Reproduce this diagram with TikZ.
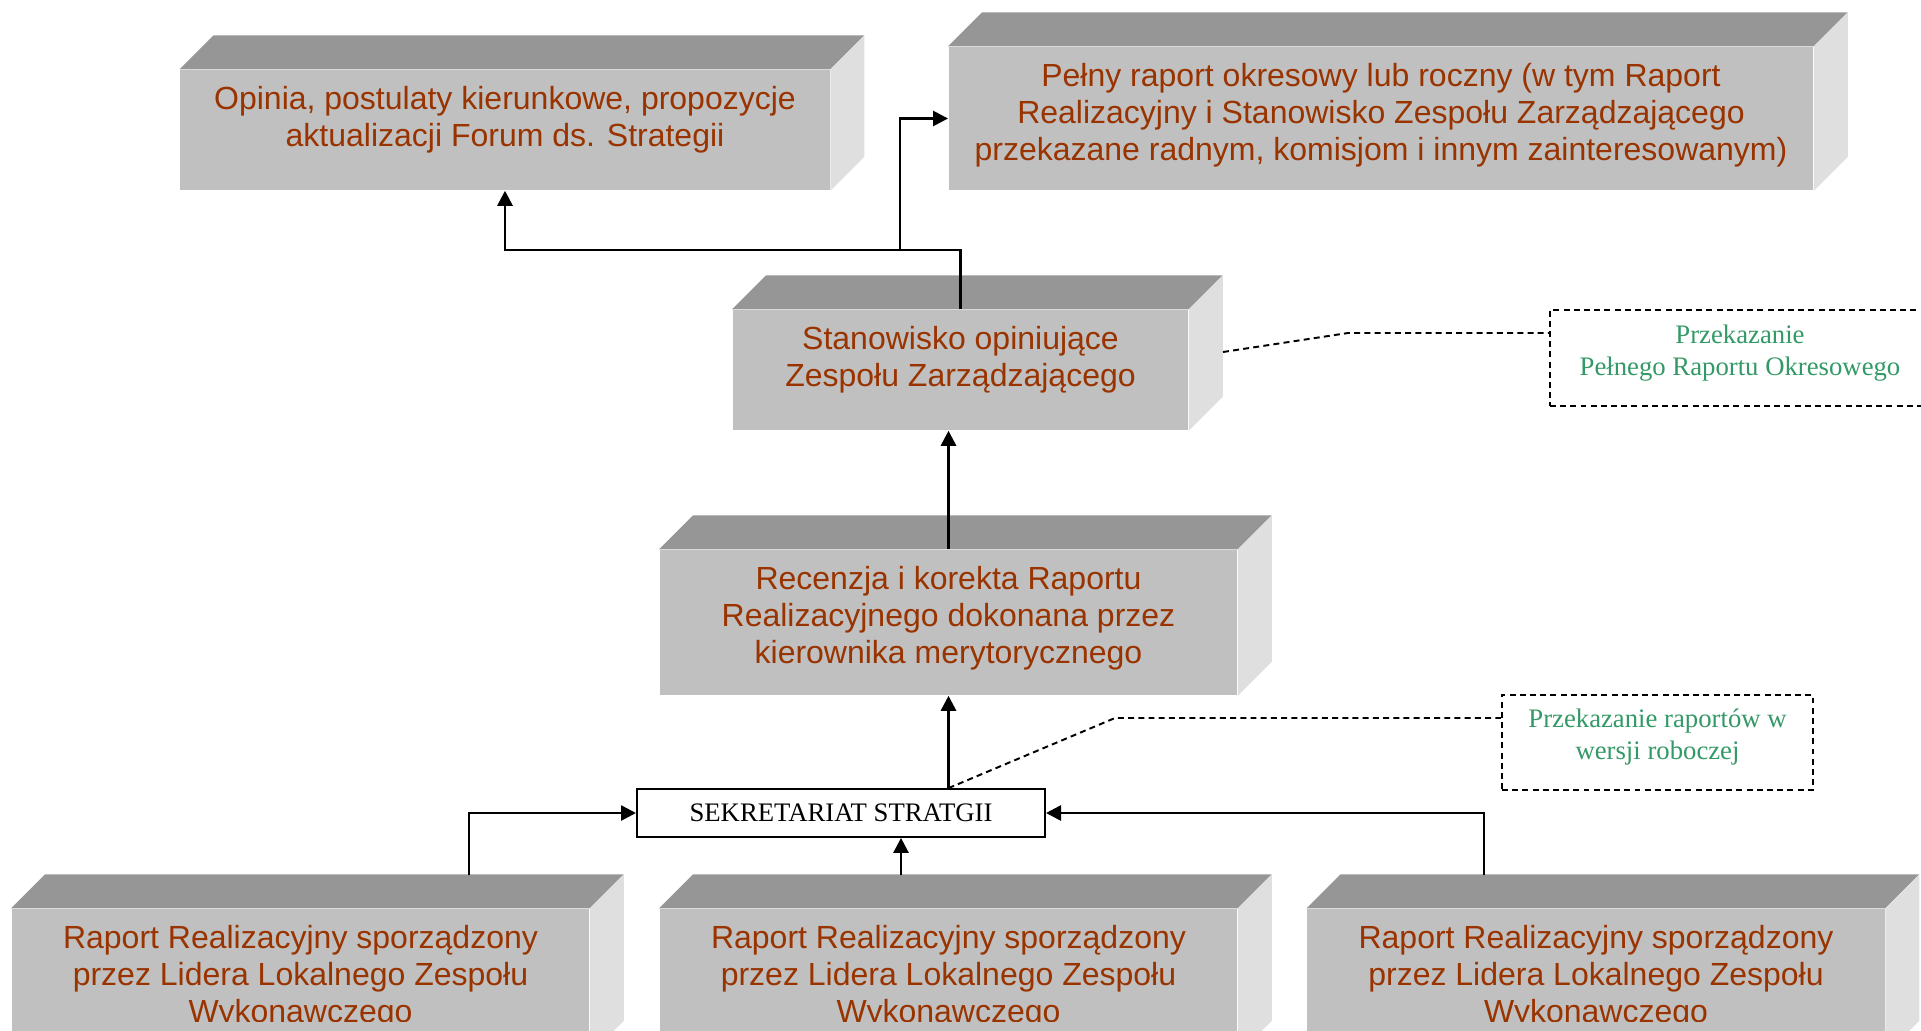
\documentclass[tikz,border=0pt]{standalone}
\usepackage{fontspec}
\setmainfont{Liberation Serif}
\setsansfont{Liberation Sans}
\usetikzlibrary{positioning,arrows.meta}

\definecolor{przod}{HTML}{C0C0C0}
\definecolor{gora}{HTML}{969696}
\definecolor{bok}{HTML}{DFDFDF}
\definecolor{braz}{HTML}{993300}
\definecolor{zielen}{HTML}{339966}

\begin{document}
\begin{tikzpicture}[x=0.01cm, y=-0.01cm] % os y w dol, 1 jednostka = 1 piksel
\tikzstyle{blok} = [rectangle, fill=przod, inner sep=0pt]
\tikzstyle{opis} = [inner sep=0pt, align=center, text=braz, font=\sffamily\fontsize{9.1}{10.5}\selectfont]
\tikzstyle{uwaga} = [rectangle, draw, line width=0.55pt, dash pattern=on 1.7pt off 1.2pt, inner sep=0pt]
\tikzstyle{notka} = [inner sep=0pt, align=center, text=zielen, font=\rmfamily\fontsize{7.6}{9.1}\selectfont]
\tikzstyle{strzalka} = [line width=0.75pt, -{Triangle[length=0.15cm, width=0.15cm]}]
\tikzstyle{przerywana} = [line width=0.55pt, dash pattern=on 1.7pt off 1.2pt]

\useasboundingbox (0,0) rectangle (1921,1030);

% bloki
\node[blok, minimum width=6.49cm, minimum height=1.2cm] (opinia) at (505,130) {};
\node[blok, minimum width=8.64cm, minimum height=1.43cm] (pelny) at (1381,118.5) {};
\node[blok, minimum width=4.55cm, minimum height=1.2cm] (stan) at (960.5,370) {};
\node[blok, minimum width=5.77cm, minimum height=1.45cm] (recenzja) at (948.5,622.5) {};
\node[blok, minimum width=5.77cm, minimum height=1.45cm] (lewy) at (300.5,981.5) {};
\node[blok, minimum width=5.77cm, minimum height=1.45cm] (srodek) at (948.5,981.5) {};
\node[blok, minimum width=5.77cm, minimum height=1.45cm] (prawy) at (1596,981.5) {};

\foreach \b in {opinia,pelny,stan,recenzja,lewy,srodek,prawy}
{
	\fill[gora] (\b.north west) -- ++(34,-34) -- ([shift={(34,-34)}]\b.north east) -- (\b.north east) -- cycle;
	\fill[bok] (\b.north east) -- ++(34,-34) -- ([shift={(34,-34)}]\b.south east) -- (\b.south east) -- cycle;
}

\node[opis, below=0.16cm of opinia.north] (opiniaT) {Opinia, postulaty kierunkowe, propozycje\\aktualizacji Forum ds. Strategii};
\node[opis, below=0.16cm of pelny.north] (pelnyT) {Pełny raport okresowy lub roczny (w tym Raport\\Realizacyjny i Stanowisko Zespołu Zarządzającego\\przekazane radnym, komisjom i innym zainteresowanym)};
\node[opis, below=0.16cm of stan.north] (stanT) {Stanowisko opiniujące\\Zespołu Zarządzającego};
\node[opis, below=0.16cm of recenzja.north] (recenzjaT) {Recenzja i korekta Raportu\\Realizacyjnego dokonana przez\\kierownika merytorycznego};

\begin{scope}
\clip (0,0) rectangle (1921,1021);
\node[opis, below=0.16cm of lewy.north] (lewyT) {Raport Realizacyjny sporządzony\\przez Lidera Lokalnego Zespołu\\Wykonawczego};
\node[opis, below=0.16cm of srodek.north] (srodekT) {Raport Realizacyjny sporządzony\\przez Lidera Lokalnego Zespołu\\Wykonawczego};
\node[opis, below=0.16cm of prawy.north] (prawyT) {Raport Realizacyjny sporządzony\\przez Lidera Lokalnego Zespołu\\Wykonawczego};
\end{scope}

\node[rectangle, draw, line width=0.5pt, fill=white, minimum width=4.08cm, minimum height=0.48cm, inner sep=0pt, font=\rmfamily\fontsize{7.6}{9.1}\selectfont] (sekr) at (841,813) {SEKRETARIAT STRATGII};

\node[uwaga, minimum width=3.8cm, minimum height=0.955cm] (przekA) at (1740,357.75) {};
\node[notka] (przekAT) at ([yshift=0.05cm]przekA.center) {Przekazanie\\Pełnego Raportu Okresowego};
\node[uwaga, minimum width=3.11cm, minimum height=0.95cm] (przekB) at (1657.5,742.5) {};
\node[notka] (przekBT) at ([yshift=0.05cm]przekB.center) {Przekazanie raportów w\\wersji roboczej};

% polaczenia
\coordinate (rozw) at (900,250);
\draw[strzalka] (stan.north) -- (stan.north |- rozw) -| (opinia.south);
\draw[strzalka] (rozw) |- (pelny.west);
\draw[strzalka] (recenzja.north) -- (recenzja.north |- stan.south);
\draw[strzalka] (recenzja.south |- sekr.north) -- (recenzja.south);

\coordinate (zL) at (469,875);
\coordinate (zM) at (901,875);
\coordinate (zR) at (1484,875);
\draw[strzalka] (zL) |- (sekr.west);
\draw[strzalka] (zM) -- (zM |- sekr.south);
\draw[strzalka] (zR) |- (sekr.east);

\coordinate (pA1) at (1223,352);
\coordinate (pA2) at (1348,333);
\draw[przerywana] (pA1) -- (pA2) -- (przekA.west |- pA2);
\coordinate (pB1) at (1115,718);
\draw[przerywana] (recenzja.south |- sekr.north) -- (pB1) -- (przekB.west |- pB1);
\end{tikzpicture}
\end{document}
